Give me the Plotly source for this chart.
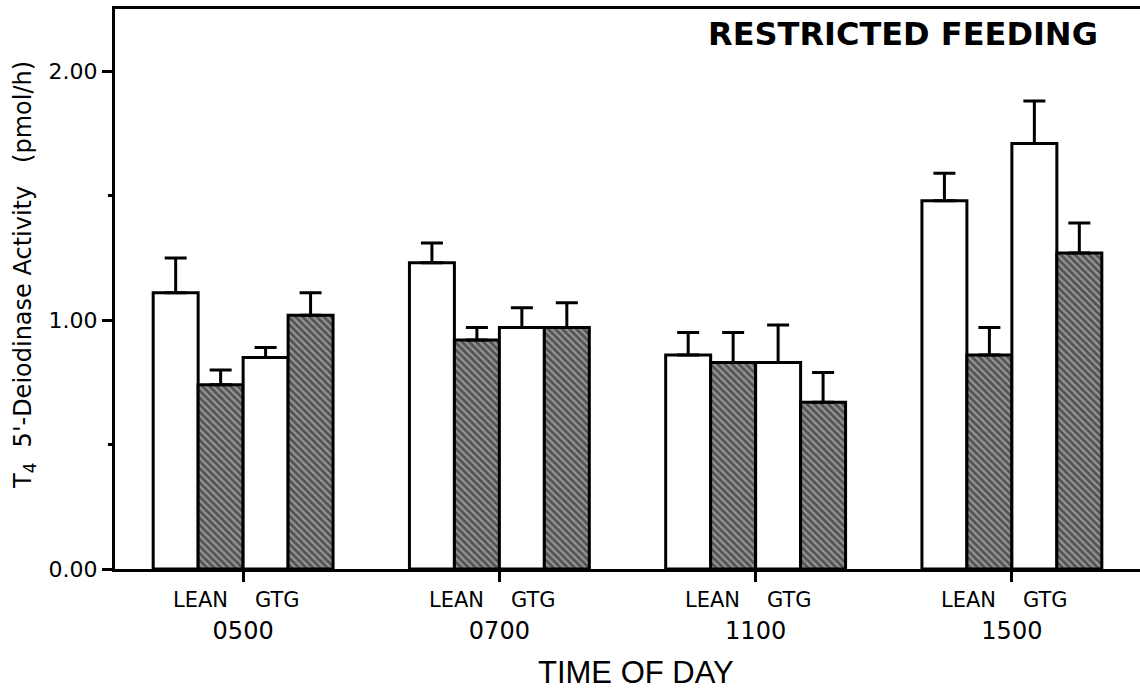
import plotly.graph_objects as go

times = ["0500", "0700", "1100", "1500"]
groups = ["LEAN", "GTG"]

lean_open = [1.11, 1.23, 0.86, 1.48]
lean_open_err = [0.14, 0.08, 0.09, 0.11]
lean_shaded = [0.74, 0.92, 0.83, 0.86]
lean_shaded_err = [0.06, 0.05, 0.12, 0.11]
gtg_open = [0.85, 0.97, 0.83, 1.71]
gtg_open_err = [0.04, 0.08, 0.15, 0.17]
gtg_shaded = [1.02, 0.97, 0.67, 1.27]
gtg_shaded_err = [0.09, 0.10, 0.12, 0.12]

y_tickvals = [0, 1, 2]
y_ticktext = ["0.00", "1.00", "2.00"]

WIDE = "DejaVu Sans, Verdana, sans-serif"
NARROW = "Liberation Sans, Arial, Helvetica, sans-serif"
xpos = list(range(len(times)))

def bar(name, vals, errs, shaded):
    marker = dict(color="white", line=dict(color="black", width=3))
    if shaded:
        marker = dict(color="#8a8a8a", line=dict(color="black", width=3),
                      pattern=dict(shape="\\", fgcolor="#111111", bgcolor="#969696",
                                   size=5, solidity=0.58, fillmode="overlay"))
    return go.Bar(
        name=name, x=xpos, y=vals, marker=marker,
        error_y=dict(type="data", array=errs, arrayminus=[0] * len(errs),
                     symmetric=False, color="black", thickness=3, width=11),
        showlegend=False,
    )

fig = go.Figure()
fig.add_trace(bar("LEAN open", lean_open, lean_open_err, False))
fig.add_trace(bar("LEAN shaded", lean_shaded, lean_shaded_err, True))
fig.add_trace(bar("GTG open", gtg_open, gtg_open_err, False))
fig.add_trace(bar("GTG shaded", gtg_shaded, gtg_shaded_err, True))

bargap = 0.298
label_shift = {"LEAN": -43, "GTG": 34}

annotations = []
for i in xpos:
    for g in groups:
        annotations.append(dict(
            x=i, y=0, xref="x", yref="paper", xshift=label_shift[g],
            text=g, showarrow=False, yanchor="middle", yshift=-31,
            font=dict(family=WIDE, size=21, color="black")))

annotations += [
    dict(x=0.961, y=1, xref="paper", yref="paper", xanchor="right", yanchor="middle",
         yshift=-25, text="<b>RESTRICTED FEEDING</b>", showarrow=False,
         font=dict(family=WIDE, size=32, color="black")),
    dict(x=0.508, y=0, xref="paper", yref="paper", xanchor="center", yanchor="middle",
         yshift=-103, text="TIME OF DAY", showarrow=False,
         font=dict(family=NARROW, size=31, color="black")),
    dict(x=0, y=0.525, xref="paper", yref="paper", xanchor="center", yanchor="middle",
         xshift=-91, textangle=-90,
         text="T<sub>4</sub>  5'-Deiodinase Activity   (pmol/h)", showarrow=False,
         font=dict(family=WIDE, size=24, color="black")),
]

fig.update_layout(
    width=1140, height=690,
    margin=dict(l=115, r=0, t=9, b=121),
    paper_bgcolor="white", plot_bgcolor="white",
    barmode="group", bargap=bargap, bargroupgap=0,
    annotations=annotations,
    font=dict(family=WIDE, color="black"),
)
fig.update_xaxes(
    range=[-0.5, 3.5], tickvals=xpos, ticktext=times,
    showline=True, linecolor="black", linewidth=3, mirror=True,
    ticks="outside", ticklen=10, tickwidth=3, tickcolor="black",
    ticklabelstandoff=28,
    tickfont=dict(family=WIDE, size=24, color="black"),
    showgrid=False, zeroline=False,
)
fig.update_yaxes(
    range=[0, 2.25], tickvals=y_tickvals, ticktext=y_ticktext,
    showline=True, linecolor="black", linewidth=3, mirror=False,
    ticks="outside", ticklen=10, tickwidth=3, tickcolor="black",
    tickfont=dict(family=WIDE, size=22, color="black"),
    minor=dict(tickvals=[0.5, 1.5], ticks="outside", ticklen=4, tickwidth=3, tickcolor="black"),
    showgrid=False, zeroline=False,
)

fig.write_html("out.html")
